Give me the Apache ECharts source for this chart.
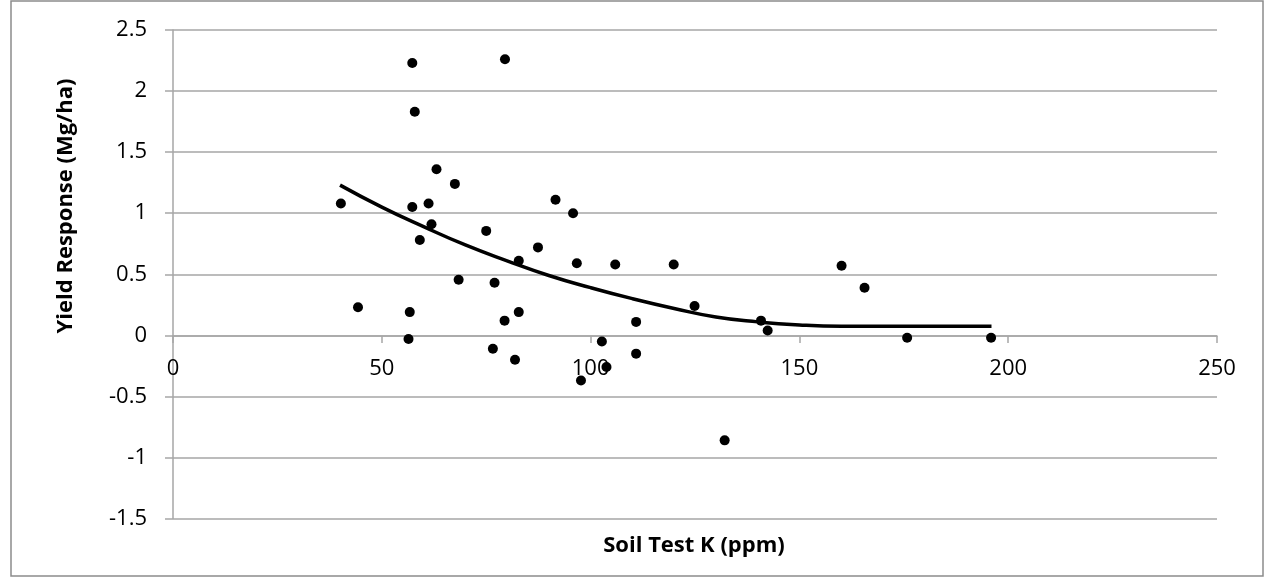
<!DOCTYPE html>
<html>
<head>
<meta charset="utf-8">
<script src="https://cdn.jsdelivr.net/npm/echarts@6/dist/echarts.min.js"></script>
<style>
  html, body { margin: 0; padding: 0; background: #fff; }
  #chart { width: 1272px; height: 578px; }
</style>
</head>
<body>
<div id="chart"></div>
<script>
'use strict';
// soil test K (ppm) vs yield response (Mg/ha)
const soilK = [40.2, 44.3, 56.4, 56.7, 57.3, 57.3, 57.9, 59.1, 61.2, 61.9, 63.1, 67.5, 68.4,
  75.0, 76.6, 77.0, 79.4, 79.5, 81.9, 82.8, 82.8, 87.4, 91.6, 95.8, 96.7, 97.7,
  102.7, 103.8, 105.9, 110.9, 110.9, 119.9, 124.9, 132.1, 140.8, 142.4, 160.1, 165.6, 175.8, 195.9];
const yieldResp = [1.08, 0.23, -0.03, 0.19, 2.23, 1.05, 1.83, 0.78, 1.08, 0.91, 1.36, 1.24, 0.455,
  0.855, -0.11, 0.43, 0.12, 2.26, -0.20, 0.61, 0.19, 0.72, 1.11, 1.0, 0.59, -0.37,
  -0.05, -0.26, 0.58, 0.11, -0.15, 0.58, 0.24, -0.86, 0.12, 0.04, 0.57, 0.39, -0.02, -0.02];
// fitted curve, read at a few points along the drawn line
const trendK = [40, 50, 60, 70, 80, 90, 100, 110, 120, 130, 140, 150, 160, 180, 196];
const trendY = [1.23, 1.05, 0.89, 0.74, 0.61, 0.49, 0.39, 0.30, 0.22, 0.15, 0.11, 0.085, 0.075, 0.075, 0.075];

const font = '"Open Sans", Lato, sans-serif';
const gridColor = '#a6a6a6';

let chart = echarts.init(document.getElementById('chart'));
chart.setOption({
  animation: false,
  grid: { left: 173, right: 55, top: 30, bottom: 59.5, containLabel: false },
  xAxis: {
    type: 'value',
    min: 0, max: 250, interval: 50,
    // axis crosses at y = 0: move it up from the bottom of the grid
    offset: -182.5,
    axisLine: { onZero: false, lineStyle: { color: gridColor, width: 1.5 } },
    axisTick: { show: true, inside: false, length: 7, lineStyle: { color: gridColor, width: 1.5 } },
    axisLabel: { color: '#000', fontSize: 22, fontFamily: font, margin: 22 },
    splitLine: { show: false }
  },
  yAxis: {
    type: 'value',
    min: -1.5, max: 2.5, interval: 0.5,
    axisLine: { show: true, onZero: false, lineStyle: { color: gridColor, width: 1.5 } },
    axisTick: { show: true, length: 8, lineStyle: { color: gridColor, width: 1.5 } },
    axisLabel: { color: '#000', fontSize: 22, fontFamily: font, margin: 26 },
    splitLine: { show: true, lineStyle: { color: gridColor, width: 1.5 } }
  },
  graphic: [
    {
      type: 'rect', silent: true, z: -1,
      shape: { x: 11, y: 1, width: 1252, height: 575 },
      style: { fill: 'none', stroke: '#8c8c8c', lineWidth: 1.5 }
    },
    {
      type: 'text', x: 66, y: 206, rotation: Math.PI / 2,
      style: {
        text: 'Yield Response (Mg/ha)', fill: '#000', font: 'bold 22px ' + font,
        align: 'center', verticalAlign: 'middle'
      }
    },
    {
      type: 'text', x: 694, y: 546,
      style: {
        text: 'Soil Test K (ppm)', fill: '#000', font: 'bold 22px ' + font,
        align: 'center', verticalAlign: 'middle'
      }
    }
  ],
  series: [
    {
      type: 'scatter',
      data: soilK.map((k, i) => [k, yieldResp[i]]),
      symbol: 'circle',
      symbolSize: 10,
      itemStyle: { color: '#000', opacity: 1 },
      z: 3
    },
    {
      type: 'line',
      data: trendK.map((k, i) => [k, trendY[i]]),
      smooth: true,
      showSymbol: false,
      lineStyle: { color: '#000', width: 3.5 },
      z: 2
    }
  ]
});
</script>
</body>
</html>
